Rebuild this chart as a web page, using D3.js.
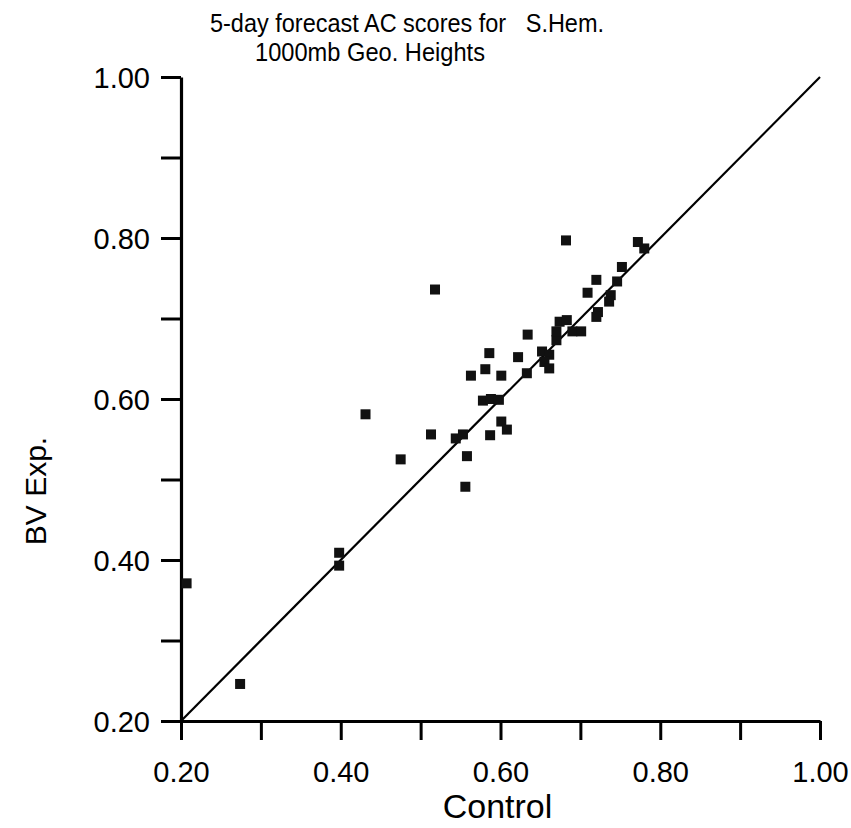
<!DOCTYPE html>
<html>
<head>
<meta charset="utf-8">
<script src="https://cdn.jsdelivr.net/npm/d3@7"></script>
<style>
  html, body { margin: 0; padding: 0; background: #fff; }
  svg { display: block; font-family: "Liberation Sans", Arial, sans-serif; }
</style>
</head>
<body>
<div id="chart"></div>
<script>
// 5-day forecast AC scores, S.Hem. 1000mb heights: control vs BV experiment

const TITLE_1 = "5-day forecast AC scores for\u00a0\u00a0\u00a0S.Hem.";
const TITLE_2 = "1000mb Geo. Heights";

// one entry per forecast case
const controlScores = [
  0.207, 0.274, 0.398, 0.398, 0.431, 0.475, 0.513, 0.518, 0.544, 0.553,
  0.558, 0.556, 0.587, 0.601, 0.608, 0.578, 0.588, 0.598, 0.563, 0.581,
  0.601, 0.586, 0.622, 0.633, 0.634, 0.652, 0.661, 0.655, 0.661, 0.670,
  0.670, 0.674, 0.683, 0.690, 0.701, 0.682, 0.720, 0.709, 0.722, 0.720,
  0.738, 0.736, 0.746, 0.752, 0.772, 0.780
];
const bvScores = [
  0.371, 0.246, 0.409, 0.393, 0.581, 0.525, 0.556, 0.736, 0.551, 0.556,
  0.529, 0.491, 0.555, 0.572, 0.562, 0.598, 0.600, 0.599, 0.629, 0.637,
  0.629, 0.657, 0.652, 0.632, 0.680, 0.659, 0.655, 0.646, 0.638, 0.673,
  0.684, 0.696, 0.698, 0.684, 0.684, 0.797, 0.748, 0.732, 0.708, 0.702,
  0.729, 0.721, 0.746, 0.764, 0.795, 0.787
];

const majorTicks = [0.2, 0.4, 0.6, 0.8, 1.0];
const minorTicks = [0.3, 0.5, 0.7, 0.9];

const W = 851, H = 828;
const plotL = 181, plotR = 820, plotT = 77, plotB = 721;

const svg = d3.select("#chart").append("svg")
    .attr("width", W).attr("height", H);

const x = d3.scaleLinear().domain([0.2, 1.0]).range([plotL, plotR]);
const y = d3.scaleLinear().domain([0.2, 1.0]).range([plotB, plotT]);

// title, two lines, second one indented; the scan's type is a bit narrow
svg.append("text").attr("x", 210).attr("y", 32)
    .attr("font-size", 25).attr("textLength", 394)
    .attr("lengthAdjust", "spacingAndGlyphs").text(TITLE_1);
svg.append("text").attr("x", 255).attr("y", 61)
    .attr("font-size", 25).attr("textLength", 230)
    .attr("lengthAdjust", "spacingAndGlyphs").text(TITLE_2);

// axes - all ticks same length, labels on the even ones
const allTicks = majorTicks.concat(minorTicks);
const fmt = d3.format(".2f");

const xAxis = svg.append("g").attr("transform", `translate(0,${plotB})`)
    .call(d3.axisBottom(x).tickValues(allTicks).tickSize(19).tickSizeOuter(0)
      .tickFormat(d => majorTicks.includes(d) ? fmt(d) : ""));
const yAxis = svg.append("g").attr("transform", `translate(${plotL},0)`)
    .call(d3.axisLeft(y).tickValues(allTicks).tickSize(20).tickSizeOuter(0)
      .tickFormat(d => majorTicks.includes(d) ? fmt(d) : ""));

[xAxis, yAxis].forEach(g => {
  g.select(".domain").attr("stroke", "#000").attr("stroke-width", 3.2);
  g.selectAll(".tick line").attr("stroke", "#000").attr("stroke-width", 3);
  g.selectAll(".tick text").attr("fill", "#000").attr("font-size", 29)
    .attr("font-family", "Liberation Sans, Arial, sans-serif");
});
xAxis.selectAll(".tick text").attr("dy", null).attr("y", 61);
yAxis.selectAll(".tick text").attr("x", -31).attr("dy", "0.36em");

// axis titles
svg.append("text").attr("x", (plotL + plotR) / 2 - 3).attr("y", 818)
    .attr("text-anchor", "middle").attr("font-size", 34).text("Control");
svg.append("text")
    .attr("transform", `translate(46,${(plotT + plotB) / 2 + 92}) rotate(-90)`)
    .attr("text-anchor", "middle").attr("font-size", 30).text("BV Exp.");

// 1:1 line
svg.append("line")
    .attr("x1", x(0.2)).attr("y1", y(0.2))
    .attr("x2", x(1.0)).attr("y2", y(1.0))
    .attr("stroke", "#000").attr("stroke-width", 2.2);

// square markers
const s = 10;
svg.append("g").selectAll("rect").data(controlScores).join("rect")
    .attr("x", d => x(d) - s / 2)
    .attr("y", (d, i) => y(bvScores[i]) - s / 2)
    .attr("width", s).attr("height", s)
    .attr("fill", "#111");
</script>
</body>
</html>
